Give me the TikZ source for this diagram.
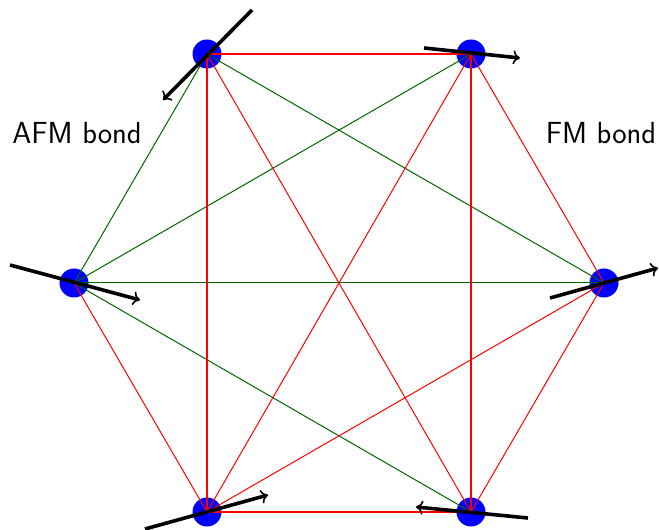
\documentclass[tikz,border=0pt]{standalone}
\usetikzlibrary{calc,arrows.meta}
\begin{document}
\begin{tikzpicture}[x=1pt,y=1pt,
  spin/.style={circle,fill=blue,draw=none,minimum size=29pt,inner sep=0pt},
  afm/.style={draw=green!40!black,line width=1pt},
  fm/.style={draw=red,line width=1pt},
  fmaxis/.style={draw=red,line width=1.1pt},
  spinarrow/.style={draw=black,line width=3.6pt,-{To[length=7pt,width=14pt,line width=1.6pt]}},
  lbl/.style={font=\sffamily\fontsize{30.5}{32}\selectfont,inner sep=0pt}]
\useasboundingbox (0,0) rectangle (659,530);
\node[spin] (tl) at (207,476) {};
\node[spin] (tr) at (471,476) {};
\node[spin] (l)  at (74,247) {};
\node[spin] (r)  at (604,247) {};
\node[spin] (bl) at (207,18) {};
\node[spin] (br) at (471,18) {};
% AFM bonds (green)
\draw[afm] (tl.center) -- (l.center);
\draw[afm] (tl.center) -- (r.center);
\draw[afm] (tr.center) -- (l.center);
\draw[afm] (l.center) -- (r.center);
\draw[afm] (l.center) -- (br.center);
% FM bonds (red)
\draw[fmaxis] (tl.center) -- (tr.center);
\draw[fmaxis] (tl.center) -- (bl.center);
\draw[fm] (tl.center) -- (br.center);
\draw[fm] (tr.center) -- (r.center);
\draw[fmaxis] (tr.center) -- (br.center);
\draw[fm] (tr.center) -- (bl.center);
\draw[fm] (l.center) -- (bl.center);
\draw[fm] (r.center) -- (bl.center);
\draw[fm] (r.center) -- (br.center);
\draw[fmaxis] (bl.center) -- (br.center);
% spins
\draw[spinarrow] ($(tl)+(45,44)$) -- ($(tl)+(-44,-46)$);
\draw[spinarrow] ($(tr)+(-47,6)$) -- ($(tr)+(49,-4)$);
\draw[spinarrow] ($(l)+(-64,18)$) -- ($(l)+(66,-17)$);
\draw[spinarrow] ($(r)+(-54,-15)$) -- ($(r)+(54,15)$);
\draw[spinarrow] ($(bl)+(-62,-17)$) -- ($(bl)+(61,17)$);
\draw[spinarrow] ($(br)+(57,-6)$) -- ($(br)+(-55,5)$);
% labels
\node[lbl] (afmlabel) at (77,397) {AFM bond};
\node[lbl] (fmlabel) at (601,397) {FM bond};
\end{tikzpicture}
\end{document}
